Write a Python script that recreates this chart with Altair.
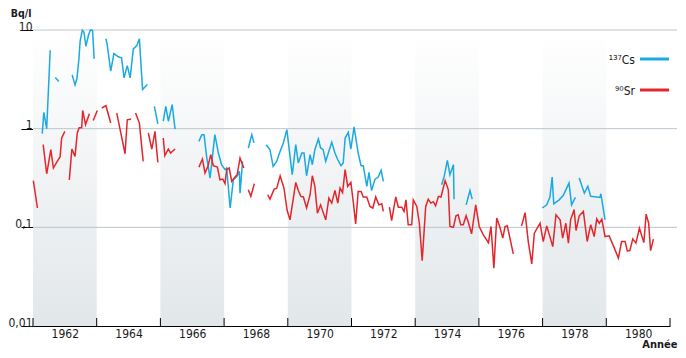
import altair as alt
import pandas as pd

# ---- data (None marks a gap in the measurement series) ----
cs_year = [1961.29, 1961.34, 1961.43, 1961.54, None,
           1961.70, 1961.81, None,
           1962.23, 1962.32, 1962.38, 1962.44, 1962.48, 1962.55, 1962.60, 1962.66, 1962.74, 1962.80, 1962.87, 1962.92, None,
           1963.29, 1963.33, 1963.44, 1963.54, 1963.68, 1963.78, 1963.86, 1963.96, 1964.05, 1964.15, 1964.26, 1964.34, 1964.44, 1964.59, None,
           1964.81, 1964.92, None,
           1965.09, 1965.17, 1965.25, 1965.37, 1965.46, None,
           1966.21, 1966.30, 1966.37, 1966.45, 1966.56, 1966.71, 1966.82, 1966.92, 1967.03, 1967.08, 1967.19, 1967.29, 1967.40, 1967.48, 1967.50, 1967.58, None,
           1967.76, 1967.87, 1967.94, None,
           1968.32, 1968.44, 1968.54, 1968.65, 1968.76, 1968.86, 1968.97, 1969.07, 1969.14, 1969.25, 1969.33, 1969.44, 1969.51, 1969.59,
           1969.70, 1969.77, 1969.85, 1969.96, 1970.03, 1970.11, 1970.19, 1970.29, 1970.38, 1970.48, 1970.57, 1970.67, 1970.74, 1970.80,
           1970.90, 1970.98, 1971.08, 1971.21, 1971.30, 1971.37, 1971.48, 1971.55, 1971.63, 1971.74, 1971.84, 1971.93, 1972.00, None,
           1973.83, 1973.91, 1974.01, 1974.09, 1974.20, 1974.22, None,
           1974.60, 1974.72, 1974.79, None,
           1976.99, 1977.13, 1977.23, 1977.30, 1977.35, 1977.52, 1977.65, 1977.83, 1977.91, 1978.03, None,
           1978.15, 1978.31, 1978.42, 1978.51, 1978.70, 1978.80, 1978.83, 1978.96]
cs_value = [0.89, 1.46, 1.0, 6.24, None,
            3.3, 3.0, None,
            3.51, 2.78, 3.22, 5.02, 7.7, 9.95, 9.5, 6.85, 8.8, 10.0, 9.9, 5.1, None,
            8.15, 7.12, 3.82, 5.77, 5.35, 5.22, 3.27, 4.36, 3.27, 6.44, 6.97, 8.15, 2.49, 2.8, None,
            1.68, 1.12, None,
            1.19, 1.68, 1.19, 1.75, 0.99, None,
            0.743, 0.87, 0.87, 0.524, 0.316, 0.87, 0.566, 0.431, 0.384, 0.399, 0.157, 0.303, 0.328, 0.369, 0.222, 0.466, None,
            0.637, 0.87, 0.717, None,
            0.688, 0.612, 0.414, 0.466, 0.589, 0.717, 0.977, 0.524, 0.341, 0.688, 0.449, 0.566, 0.566, 0.333,
            0.545, 0.431, 0.612, 0.786, 0.637, 0.612, 0.466, 0.589, 0.727, 0.566, 0.484, 0.421, 0.449, 0.804,
            0.917, 0.622, 1.04, 0.566, 0.421, 0.421, 0.26, 0.36, 0.236, 0.308, 0.323, 0.378, 0.292, None,
            0.27, 0.328, 0.477, 0.341, 0.431, 0.193, None,
            0.169, 0.236, 0.193, None,
            0.157, 0.169, 0.203, 0.323, 0.173, 0.19, 0.211, 0.281, 0.169, 0.201, None,
            0.316, 0.222, 0.26, 0.206, 0.203, 0.201, 0.219, 0.119]

sr_year = [1961.01, 1961.14, None,
           1961.32, 1961.43, 1961.56, 1961.64, 1961.76, 1961.85, 1961.90, 1962.00, None,
           1962.14, 1962.22, 1962.32, 1962.39, 1962.45, 1962.53, 1962.56, 1962.65, 1962.77, None,
           1962.89, 1963.02, None,
           1963.16, 1963.29, 1963.44, None,
           1963.63, 1963.89, 1963.96, 1964.08, None,
           1964.22, 1964.34, 1964.46, None,
           1964.62, 1964.73, 1964.83, 1964.92, None,
           1965.09, 1965.14, 1965.25, 1965.32, 1965.46, None,
           1966.21, 1966.32, 1966.40, 1966.50, 1966.58, 1966.66, 1966.79, 1966.87, 1966.96, 1967.03, 1967.08, 1967.16, 1967.24, 1967.34, 1967.41, 1967.50, 1967.62, None,
           1967.76, 1967.84, 1967.95, None,
           1968.37, 1968.44, 1968.57, 1968.65, 1968.76, 1968.88, 1968.98, 1969.07, 1969.25, 1969.33, 1969.41, 1969.49, 1969.59, 1969.70,
           1969.77, 1969.85, 1969.93, 1970.03, 1970.19, 1970.29, 1970.38, 1970.48, 1970.57, 1970.64, 1970.72, 1970.80, 1970.88, 1970.98,
           1971.06, 1971.13, 1971.21, 1971.30, 1971.37, 1971.48, 1971.58, 1971.67, 1971.76, 1971.86, 1971.95, 1972.00, None,
           1972.19, 1972.26, 1972.39, 1972.47, 1972.58, 1972.65, 1972.71, 1972.78, 1972.89, 1972.94, 1973.05, 1973.13, 1973.22, 1973.33,
           1973.41, 1973.49, 1973.57, 1973.64, 1973.73, 1973.81, 1973.94, 1974.04, 1974.09, 1974.20, 1974.28, 1974.35, 1974.43, 1974.51,
           1974.60, 1974.67, 1974.77, 1974.90, 1975.01, 1975.14, 1975.30, 1975.38, 1975.47, 1975.56, 1975.66, 1975.75, 1975.82, 1975.89, 1976.08, None,
           1976.34, 1976.45, 1976.55, 1976.66, 1976.74, 1976.92, 1977.02, 1977.13, 1977.32, 1977.42, 1977.55, 1977.63, 1977.73, 1977.81,
           1977.88, 1977.99, 1978.05, 1978.15, 1978.28, 1978.40, 1978.51, 1978.62, 1978.70, 1978.78, 1978.86, 1978.96, 1979.09, 1979.24,
           1979.38, 1979.48, 1979.59, 1979.66, 1979.74, 1979.83, 1979.93, 1980.04, 1980.18, 1980.25, 1980.33, 1980.39, 1980.48]
sr_value = [0.298, 0.157, None,
            0.688, 0.349, 0.612, 0.399, 0.466, 0.516, 0.804, 0.939, None,
            0.303, 0.622, 0.524, 0.904, 1.02, 1.02, 1.53, 1.10, 1.42, None,
            1.21, 1.53, None,
            1.62, 1.71, 1.14, None,
            1.44, 0.557, 1.23, 1.25, None,
            1.44, 1.14, 0.466, None,
            0.904, 0.622, 0.939, 0.455, None,
            0.804, 0.532, 0.622, 0.566, 0.622, None,
            0.408, 0.492, 0.355, 0.421, 0.545, 0.421, 0.408, 0.303, 0.308, 0.277, 0.384, 0.399, 0.292, 0.323, 0.341, 0.504, 0.399, None,
            0.24, 0.206, 0.277, None,
            0.214, 0.193, 0.244, 0.248, 0.333, 0.25, 0.148, 0.119, 0.285, 0.236, 0.206, 0.203, 0.157, 0.214,
            0.333, 0.26, 0.139, 0.169, 0.119, 0.198, 0.176, 0.236, 0.176, 0.25, 0.225, 0.384, 0.26, 0.285,
            0.176, 0.108, 0.231, 0.231, 0.203, 0.203, 0.163, 0.157, 0.203, 0.169, 0.173, 0.145, None,
            0.16, 0.117, 0.203, 0.16, 0.16, 0.145, 0.19, 0.106, 0.106, 0.19, 0.163, 0.11, 0.046, 0.163,
            0.193, 0.176, 0.182, 0.165, 0.206, 0.203, 0.298, 0.24, 0.102, 0.1, 0.131, 0.134, 0.106, 0.106,
            0.131, 0.112, 0.086, 0.169, 0.102, 0.084, 0.07, 0.102, 0.0385, 0.124, 0.1, 0.0777, 0.102, 0.104, 0.0538, None,
            0.1035, 0.141, 0.0718, 0.0426, 0.0873, 0.11, 0.0718, 0.1035, 0.0638, 0.134, 0.119, 0.0777, 0.11, 0.0692,
            0.119, 0.151, 0.0928, 0.131, 0.145, 0.0718, 0.106, 0.0807, 0.122, 0.11, 0.121, 0.0807, 0.082, 0.063,
            0.0487, 0.0718, 0.0718, 0.0577, 0.0581, 0.0764, 0.0692, 0.098, 0.07, 0.136, 0.11, 0.058, 0.0759]

series_names = ["137Cs", "90Sr"]
legend_labels = ["\u00b9\u00b3\u2077Cs", "\u2079\u2070Sr"]
series_colors = ["#1aa9e0", "#e3262c"]

band_start = [1961, 1965, 1969, 1973, 1977]
band_end = [1963, 1967, 1971, 1975, 1979]
x_label_years = [1962, 1964, 1966, 1968, 1970, 1972, 1974, 1976, 1978, 1980]
x_tick_years = [1961, 1963, 1965, 1967, 1969, 1971, 1973, 1975, 1977, 1979, 1981]
y_ticks = [0.01, 0.1, 1, 10]
y_tick_labels = ["0,01", "0,1", "1", "10"]
grid_values = [0.1, 1, 10]

FONT = "Liberation Sans Narrow, DejaVu Sans Condensed, Roboto Condensed, sans-serif"
W, H = 637, 296


def frame(years, values, name):
    rows, seg = [], 0
    for yr, v in zip(years, values):
        if yr is None:
            seg += 1
            continue
        rows.append({"year": yr, "value": v, "series": name, "seg": f"{name}_{seg}"})
    return pd.DataFrame(rows)


lines_df = pd.concat([frame(cs_year, cs_value, series_names[0]),
                      frame(sr_year, sr_value, series_names[1])])
bands_df = pd.DataFrame({"start": band_start, "end": band_end,
                         "top": [10] * len(band_start), "bottom": [0.01] * len(band_start)})
grid_df = pd.DataFrame({"v": grid_values})
ticks_df = pd.DataFrame({"year": x_tick_years})

xscale = alt.Scale(domain=[1961, 1981], nice=False, zero=False)
yscale = alt.Scale(type="log", domain=[0.01, 10], nice=False)

label_expr = " : ".join(
    f"datum.value == {v} ? '{l}'" for v, l in zip(y_ticks, y_tick_labels)) + " : ''"

x_axis = alt.Axis(values=x_label_years, format="d", tickSize=0, grid=False,
                  domainColor="#000000", domainWidth=1, labelPadding=2,
                  labelFont=FONT, labelFontSize=12, labelColor="#1a1a1a",
                  title="Année", titleFont=FONT, titleFontSize=11,
                  titleFontWeight="bold", titleColor="#1a1a1a",
                  titleAlign="right", titleBaseline="alphabetic",
                  titleX=W + 7, titleY=21, titleAngle=0)
y_axis = alt.Axis(values=y_ticks, labelExpr=label_expr, grid=False, domain=False,
                  tickSize=12, tickColor="#000000", tickWidth=1,
                  labelAlign="right", labelBaseline="alphabetic", labelOffset=0,
                  labelPadding=-11, labelFont=FONT, labelFontSize=12,
                  labelColor="#1a1a1a",
                  title="Bq/l", titleAngle=0, titleFont=FONT, titleFontSize=10.5,
                  titleFontWeight="bold", titleColor="#1a1a1a",
                  titleAlign="right", titleBaseline="alphabetic",
                  titleX=-2, titleY=-13.5)

bands = alt.Chart(bands_df).mark_rect(
    color=alt.Gradient(gradient="linear", x1=0, y1=0, x2=0, y2=1,
                       stops=[alt.GradientStop(color="#ffffff", offset=0),
                              alt.GradientStop(color="#f2f4f5", offset=0.45),
                              alt.GradientStop(color="#e2e7ea", offset=1)])
).encode(
    x=alt.X("start:Q", scale=xscale, axis=x_axis),
    x2="end:Q",
    y=alt.Y("top:Q", scale=yscale, axis=y_axis),
    y2="bottom:Q",
)

grid = alt.Chart(grid_df).mark_rule(color="#b9c5cc", strokeWidth=1).encode(
    y=alt.Y("v:Q", scale=yscale, axis=y_axis),
    x=alt.value(0),
    x2=alt.value(W + 7),
)

lines = alt.Chart(lines_df).mark_line(strokeWidth=1.5, clip=False).encode(
    x=alt.X("year:Q", scale=xscale, axis=x_axis),
    y=alt.Y("value:Q", scale=yscale, axis=y_axis),
    color=alt.Color("series:N", scale=alt.Scale(domain=series_names, range=series_colors),
                    legend=None),
    detail="seg:N",
)

ticks = alt.Chart(ticks_df).mark_rule(color="#000000", strokeWidth=1).encode(
    x=alt.X("year:Q", scale=xscale, axis=x_axis),
    y=alt.value(H - 8),
    y2=alt.value(H),
)

legend_layers = []
for i, (lab, col) in enumerate(zip(legend_labels, series_colors)):
    ypos = 29 + i * 31
    legend_layers.append(
        alt.Chart(pd.DataFrame({"t": [lab]})).mark_text(
            align="right", baseline="middle", font=FONT, fontSize=12, color="#1a1a1a"
        ).encode(text="t:N", x=alt.value(602), y=alt.value(ypos + 1))
    )
    legend_layers.append(
        alt.Chart(pd.DataFrame({"t": [lab]})).mark_rule(color=col, strokeWidth=3).encode(
            x=alt.value(607), x2=alt.value(636), y=alt.value(ypos)
        )
    )

chart = alt.layer(bands, grid, lines, ticks, *legend_layers).properties(
    width=W, height=H,
    padding={"left": 25, "top": 22, "right": 8, "bottom": 24},
    autosize=alt.AutoSizeParams(type="none"),
    background="#ffffff",
).configure_view(stroke=None)

chart.save("out.html", embed_options={"renderer": "svg", "actions": False})
